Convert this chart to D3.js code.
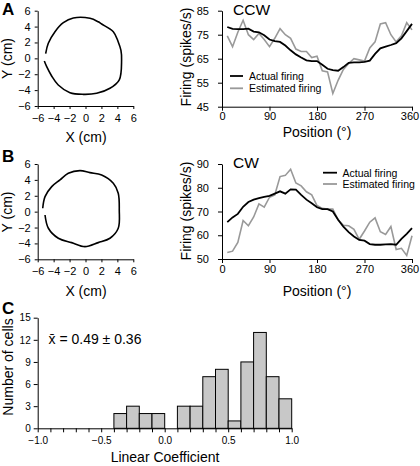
<!DOCTYPE html>
<html><head><meta charset="utf-8">
<script src="https://cdn.jsdelivr.net/npm/d3@7"></script>
<style>
body{margin:0;background:#fff;}
svg{display:block;font-family:"Liberation Sans",Arial,sans-serif;}
</style></head>
<body>
<script>
// ---------- DATA ----------
const trajAX = [-5.0,-4.67,-3.83,-2.78,-1.53,0.56,1.6,2.03,3.49,4.1,4.45,4.53,4.24,3.07,1.4,-0.28,-1.95,-3.42,-4.25,-4.87,-5.17];
const trajAY = [0.6,1.9,3.36,4.49,5.08,5.04,4.6,4.32,3.36,2.1,1.0,-0.2,-2.7,-3.77,-4.4,-4.53,-4.33,-3.36,-2.22,-1.05,-0.34];
const trajBX = [-5.37,-5.08,-4.24,-3.2,-2.16,-0.7,0.56,2.03,3.49,4.11,4.24,4.11,3.07,1.6,-0.07,-1.74,-3.41,-4.66,-5.08];
const trajBY = [0.43,1.89,3.15,4.0,4.83,5.16,4.91,4.62,3.58,2.32,0.21,-2.09,-3.35,-3.9,-4.41,-3.9,-3.35,-2.09,-0.42];

const positions = [10,20,30,40,50,60,70,80,90,100,110,120,130,140,150,160,170,180,190,200,210,220,230,240,250,260,270,280,290,300,310,320,330,340,350,360];
const ccwActual = [78.2,77.4,77.3,77.3,77.5,76.3,76,74.8,73,72.3,72,70.5,68.5,66.8,65.5,64.3,64,64,62.5,60.8,60.2,60,61.5,63.3,63.5,63.5,63.7,64.2,67,69.3,70,70.7,71.5,73.5,76.5,79.5];
const ccwEstimated = [74.5,70,76,81,75,73,75.5,73,70,73.5,77.5,75,73.5,69,68,68,65.5,66,60,59.5,50.5,56,60.5,63,65,64.5,64,69.5,72,79.5,80,75,72,74.5,80,77];
const cwActual = [65.5,67.5,69,72,74,75,75.6,76.2,76.6,77.5,78.5,77.5,79.3,79.2,77,75,73.5,71.8,71,71,70,66.5,63.6,61.3,59.5,58,57.7,56.3,56,56,56.2,56.3,56,58.5,60.6,63];
const cwEstimated = [52.7,53.3,57,66.2,64,67.7,73.2,71.8,76,77,84.7,85.2,87.8,82,80.8,78.3,77,72.5,71.3,71,71,66.5,64.2,64,62.5,58.3,61.8,65.5,67.3,61.5,60.3,63.7,54,54.5,51.5,59.8];

const binStarts = [-0.4,-0.3,-0.2,-0.1,0.0,0.1,0.2,0.3,0.4,0.5,0.6,0.7,0.8,0.9];
const binCounts = [2,3,2,2,0,3,3,7,8,1,9,13,7,4];
const binWidth = 0.1;

const xyTicks = [-6,-4,-2,0,2,4,6];
const posTicks = [0,90,180,270,360];
const ccwTicks = [45,55,65,75,85];
const cwTicks = [50,60,70,80,90];
const coefTicks = [-1.0,-0.9,-0.8,-0.7,-0.6,-0.5,-0.4,-0.3,-0.2,-0.1,0.0,0.1,0.2,0.3,0.4,0.5,0.6,0.7,0.8,0.9,1.0];
const coefLabels = [-1.0,-0.5,0.0,0.5,1.0];
const countTicks = [0,3,6,9,12,15];

// ---------- DRAW ----------
const svg = d3.select("body").append("svg").attr("width",420).attr("height",466);

function styleAxis(g, fs){
  g.selectAll("path.domain").attr("stroke","#000").attr("stroke-width",1);
  g.selectAll(".tick line").attr("stroke","#000");
  g.selectAll("text").attr("font-size",fs).attr("font-family","Liberation Sans, Arial, sans-serif").attr("fill","#000");
}

function trajPanel(xs, ys, top, bottom){
  const x = d3.scaleLinear().domain([-6,6]).range([37.7,133.3]);
  const y = d3.scaleLinear().domain([-6,6]).range([bottom, top]);
  const gx = svg.append("g").attr("transform",`translate(0,${bottom})`)
    .call(d3.axisBottom(x).tickValues(xyTicks).tickSize(3).tickSizeOuter(0).tickPadding(5));
  styleAxis(gx, 11);
  const gy = svg.append("g").attr("transform",`translate(37.7,0)`)
    .call(d3.axisLeft(y).tickValues(xyTicks).tickSize(3).tickSizeOuter(0).tickPadding(4));
  styleAxis(gy, 11);
  const pts = xs.map((v,i)=>[v, ys[i]]);
  svg.append("path").datum(pts)
    .attr("d", d3.line().x(d=>x(d[0])).y(d=>y(d[1])).curve(d3.curveCatmullRom))
    .attr("fill","none").attr("stroke","#000").attr("stroke-width",1.6);
  return {x,y};
}

function firingPanel(actual, est, dom, ticks, top, bottom){
  const x = d3.scaleLinear().domain([0,360]).range([222,412]);
  const y = d3.scaleLinear().domain(dom).range([bottom, top]);
  const gx = svg.append("g").attr("transform",`translate(0,${bottom})`)
    .call(d3.axisBottom(x).tickValues(posTicks).tickSize(4).tickSizeOuter(0).tickPadding(2));
  styleAxis(gx, 11);
  gx.selectAll(".tick text").filter(d=>d===360).attr("dx",-2.5);
  const gy = svg.append("g").attr("transform",`translate(222,0)`)
    .call(d3.axisLeft(y).tickValues(ticks).tickSize(4).tickSizeOuter(0).tickPadding(9));
  styleAxis(gy, 11);
  const line = d3.line().x((d,i)=>x(positions[i])).y(d=>y(d));
  svg.append("path").datum(est).attr("d",line).attr("fill","none").attr("stroke","#999").attr("stroke-width",1.6);
  svg.append("path").datum(actual).attr("d",line).attr("fill","none").attr("stroke","#000").attr("stroke-width",1.8);
  return {x,y};
}

function label(txt, x, y, opts={}){
  const t = svg.append("text").attr("x",x).attr("y",y).text(txt)
    .attr("font-size",opts.fs||14).attr("fill","#000")
    .attr("text-anchor",opts.anchor||"start");
  if(opts.bold) t.attr("font-weight","bold");
  if(opts.rot) t.attr("transform",`rotate(-90,${x},${y})`);
  return t;
}

// Panel A
trajPanel(trajAX, trajAY, 10.7, 106);
firingPanel(ccwActual, ccwEstimated, [45,85], ccwTicks, 10.7, 106.7);
// Panel B
trajPanel(trajBX, trajBY, 164, 259.3);
firingPanel(cwActual, cwEstimated, [50,90], cwTicks, 164, 259);

// labels A
label("A", 2, 14.5, {fs:17, bold:true});
label("Y (cm)", 11.5, 58.5, {rot:true, anchor:"middle"});
label("X (cm)", 86, 141.5, {anchor:"middle"});
label("Firing (spikes/s)", 191, 57, {rot:true, anchor:"middle"});
label("Position (°)", 317, 137, {anchor:"middle"});
label("CCW", 233, 14.5, {fs:15.5});
// legend A
svg.append("line").attr("x1",230).attr("x2",243).attr("y1",76).attr("y2",76).attr("stroke","#000").attr("stroke-width",1.8);
svg.append("line").attr("x1",230).attr("x2",243).attr("y1",88.3).attr("y2",88.3).attr("stroke","#999").attr("stroke-width",1.8);
label("Actual firing", 249, 80, {fs:10.5});
label("Estimated firing", 249, 92.3, {fs:10.5});

// labels B
label("B", 2, 162, {fs:17, bold:true});
label("Y (cm)", 11.5, 212, {rot:true, anchor:"middle"});
label("X (cm)", 86, 296, {anchor:"middle"});
label("Firing (spikes/s)", 191, 211, {rot:true, anchor:"middle"});
label("Position (°)", 317, 296, {anchor:"middle"});
label("CW", 233, 168, {fs:15.5});
svg.append("line").attr("x1",323).attr("x2",337).attr("y1",172.7).attr("y2",172.7).attr("stroke","#000").attr("stroke-width",1.8);
svg.append("line").attr("x1",323).attr("x2",337).attr("y1",184).attr("y2",184).attr("stroke","#999").attr("stroke-width",1.8);
label("Actual firing", 342.5, 176.5, {fs:10.5});
label("Estimated firing", 342.5, 188, {fs:10.5});

// Panel C histogram
const hx = d3.scaleLinear().domain([-1,1]).range([37.7,291.7]);
const hy = d3.scaleLinear().domain([0,15]).range([428.3,317.7]);
svg.append("g").selectAll("rect").data(binStarts).join("rect")
  .attr("x",(d)=>hx(d)).attr("width",(d)=>hx(d+binWidth)-hx(d))
  .attr("y",(d,i)=>hy(binCounts[i])).attr("height",(d,i)=>hy(0)-hy(binCounts[i]))
  .attr("fill",(d,i)=>binCounts[i]>0?"#c8c8c8":"none").attr("stroke",(d,i)=>binCounts[i]>0?"#000":"none").attr("stroke-width",1);
const hgx = svg.append("g").attr("transform","translate(0,428.3)")
  .call(d3.axisBottom(hx).tickValues(coefTicks).tickSize(4).tickSizeOuter(0).tickPadding(5)
    .tickFormat(d=> coefLabels.some(v=>Math.abs(v-d)<1e-9) ? d3.format(".1f")(d) : ""));
styleAxis(hgx, 10);
const hgy = svg.append("g").attr("transform","translate(37.7,0)")
  .call(d3.axisLeft(hy).tickValues(countTicks).tickSize(4).tickSizeOuter(0).tickPadding(3));
styleAxis(hgy, 10);

label("C", 2, 313.5, {fs:17, bold:true});
label("Number of cells", 12.5, 367, {rot:true, anchor:"middle"});
label("Linear Coefficient", 165, 462, {anchor:"middle"});
label("x\u0304 = 0.49 \u00b1 0.36", 48.5, 343.5, {fs:14});
</script>
</body></html>
